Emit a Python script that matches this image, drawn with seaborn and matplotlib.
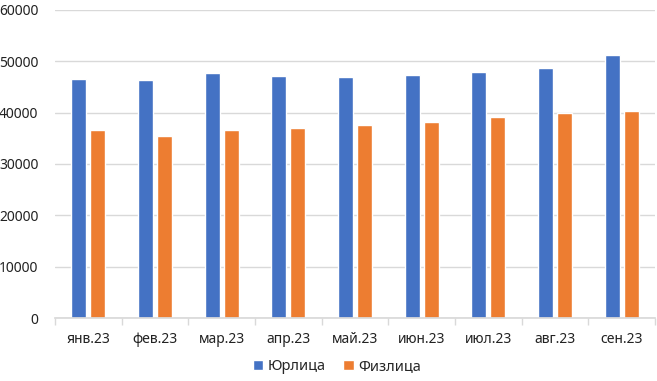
import pandas as pd
import matplotlib.pyplot as plt
import seaborn as sns
from matplotlib.ticker import FixedLocator

months = ["янв.23", "фев.23", "мар.23", "апр.23", "май.23",
          "июн.23", "июл.23", "авг.23", "сен.23"]
urlica = [46600, 46300, 47650, 47150, 46900, 47400, 47850, 48650, 51250]
fizlica = [36550, 35550, 36550, 36950, 37650, 38150, 39200, 39950, 40400]
series = ["Юрлица", "Физлица"]
colors = ["#4472C4", "#ED7D31"]

df = pd.DataFrame({
    "month": months * 2,
    "value": urlica + fizlica,
    "series": [series[0]] * len(months) + [series[1]] * len(months),
})

sns.set_theme(style="white")
plt.rcParams["font.family"] = ["Noto Sans", "DejaVu Sans"]

fig = plt.figure(figsize=(6.57, 3.81), dpi=100)
ax = fig.add_axes([55 / 657, 1 - 318 / 381, 600 / 657, 308 / 381])

sns.barplot(data=df, x="month", y="value", hue="series", palette=colors,
            width=0.57, gap=0.21, ax=ax, saturation=1)

ax.set_ylim(0, 60000)
ax.set_xlim(-0.5, len(months) - 0.5)
ax.set_yticks(range(0, 60001, 10000))
ax.yaxis.grid(True, color="#D9D9D9", linewidth=1)
ax.set_axisbelow(True)
for s in ["top", "right", "left"]:
    ax.spines[s].set_visible(False)
ax.spines["bottom"].set_color("#D9D9D9")
ax.set_xlabel("")
ax.set_ylabel("")
ax.tick_params(axis="y", length=0, pad=12, labelsize=10, labelcolor="#222222")
ax.tick_params(axis="x", which="major", length=0, pad=10, labelsize=10, labelcolor="#222222")
ax.xaxis.set_minor_locator(FixedLocator([i - 0.5 for i in range(len(months) + 1)]))
ax.tick_params(axis="x", which="minor", length=5, color="#D9D9D9", bottom=True)

ax.legend(loc="upper center", bbox_to_anchor=(0.47, -0.105), ncol=2, frameon=False,
          fontsize=10.5, handlelength=0.7, handleheight=0.7, handletextpad=0.3,
          columnspacing=1.2, borderaxespad=0.2)

fig.savefig("out.png", dpi=100)
